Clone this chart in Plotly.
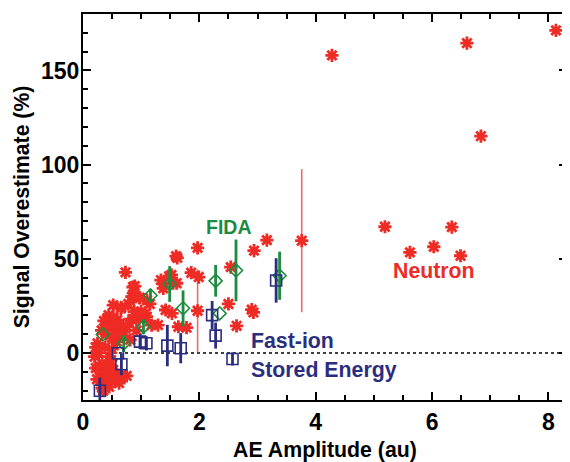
import plotly.graph_objects as go

# ---------------- data ----------------
neutron_x = [4.28, 6.60, 8.13, 6.84, 3.76, 5.19, 5.62, 6.03, 6.34, 6.49,
             1.97, 3.16, 2.94, 1.99, 1.97, 2.54, 2.50, 2.64, 2.93, 2.90,
             1.60, 1.62, 1.38, 1.52, 1.55, 1.38, 1.34, 1.48, 1.61, 1.86,
             1.42, 1.53, 1.29, 1.64, 1.78, 1.18, 0.98, 1.05, 1.09, 1.07,
             0.73, 0.89, 0.84, 0.97, 0.52, 0.66, 0.65, 0.88, 0.42, 0.59,
             0.96, 0.75, 0.81, 0.75, 0.66, 0.58, 0.25, 0.27, 0.45, 0.33,
             0.36, 0.48, 0.30, 0.42, 0.65, 0.33, 0.36, 0.45, 0.55, 0.62,
             0.70, 0.40, 0.50, 0.58, 0.68, 0.78, 0.32, 0.44, 0.52, 0.60,
             0.38, 0.50, 0.28, 0.40, 0.52, 0.30, 0.35, 0.45, 0.55, 0.62,
             0.38, 0.48, 0.86, 0.87, 1.10, 1.15, 1.00, 0.92, 0.85, 0.78,
             0.22, 0.22, 0.24, 0.20]
neutron_y = [158.0, 164.5, 171.3, 115.1, 59.6, 67.0, 53.4, 56.4, 66.8, 51.6,
             55.8, 59.9, 54.3, 40.3, 22.4, 45.6, 26.0, 14.4, 21.5, 23.0,
             51.4, 50.5, 36.8, 41.4, 37.0, 34.3, 38.7, 40.8, 37.0, 42.6,
             22.8, 21.0, 14.8, 13.9, 13.4, 14.8, 29.2, 19.5, 19.3, 21.0,
             42.8, 35.5, 29.9, 29.3, 25.4, 24.2, 23.7, 21.9, 18.4, 17.5,
             18.4, 13.9, 6.9, -12.2, -11.7, -11.7, 5.1, 0.0, -2.0, -5.5,
             -10.8, -12.6, -13.4, -16.1, -13.4, -18.7, 17.0, 14.0, 12.0, 15.0,
             11.0, 10.0, 8.0, 6.0, 9.0, 16.0, 12.0, 20.0, 19.0, 10.0,
             3.0, 2.0, -8.0, -7.0, -9.0, -15.0, -20.0, -18.0, -14.0, -16.0,
             -12.0, -4.0, 35.0, 30.0, 28.0, 26.0, 22.0, 12.0, 18.0, 26.0,
             -8.0, 3.0, -14.0, -2.0]
neutron_err = [0] * len(neutron_x)
neutron_err[4] = 38.0
neutron_err[14] = 22.0

fida_x = [0.34, 0.70, 1.04, 1.16, 1.49, 1.72, 2.28, 2.35, 2.63, 3.38]
fida_y = [9.8, 5.0, 13.9, 30.5, 36.6, 23.7, 38.3, 21.0, 43.8, 41.0]
fida_err = [0, 4.5, 4.0, 3.5, 9.5, 9.5, 8.4, 0, 16.4, 12.8]

fis_x = [0.29, 0.60, 0.66, 0.98, 1.09, 1.45, 1.68, 2.22, 2.28, 2.57, 3.32]
fis_y = [-20.1, -0.2, -6.0, 6.0, 5.1, 3.9, 2.5, 20.1, 9.2, -3.2, 38.5]
fis_err = [7.0, 0, 5.8, 4.0, 3.8, 11.0, 8.0, 7.5, 6.9, 3.5, 11.8]

x_tickvals = [0, 2, 4, 6, 8]
y_tickvals = [0, 50, 100, 150]

RED = "#EE2B24"
GREEN = "#1C8C40"
NAVY = "#2B2E7E"
FONT = "Liberation Sans"

fig = go.Figure()

fig.add_trace(go.Scatter(
    x=neutron_x, y=neutron_y, mode="markers",
    marker=dict(symbol="asterisk", size=11, color=RED,
                line=dict(color=RED, width=2.8)),
    error_y=dict(type="data", array=neutron_err, visible=True,
                 color="#F06A6A", thickness=1.6, width=0),
    showlegend=False))

fig.add_trace(go.Scatter(
    x=fida_x, y=fida_y, mode="markers",
    marker=dict(symbol="diamond-open", size=10, color=GREEN,
                line=dict(color=GREEN, width=1.6)),
    error_y=dict(type="data", array=fida_err, visible=True,
                 color=GREEN, thickness=2.8, width=0),
    showlegend=False))

fig.add_trace(go.Scatter(
    x=fis_x, y=fis_y, mode="markers",
    marker=dict(symbol="square-open", size=11, color=NAVY,
                line=dict(color=NAVY, width=1.6)),
    error_y=dict(type="data", array=fis_err, visible=True,
                 color=NAVY, thickness=2.8, width=0),
    showlegend=False))

fig.add_shape(type="line", xref="paper", yref="y", x0=0, x1=1, y0=0, y1=0,
              line=dict(color="black", width=1.4, dash="dot"), layer="below")

fig.add_annotation(x=2.51, y=66.8, text="<b>FIDA</b>", showarrow=False,
                   font=dict(family=FONT, size=19.5, color=GREEN), xanchor="center", yanchor="middle")
fig.add_annotation(x=6.03, y=43.5, text="<b>Neutron</b>", showarrow=False,
                   font=dict(family=FONT, size=21.3, color=RED), xanchor="center", yanchor="middle")
fig.add_annotation(x=2.85, y=6.4, text="<b>Fast-ion</b>", showarrow=False,
                   font=dict(family=FONT, size=21.3, color=NAVY), xanchor="left", yanchor="middle")
fig.add_annotation(x=2.85, y=-9.0, text="<b>Stored Energy</b>", showarrow=False,
                   font=dict(family=FONT, size=21.3, color=NAVY), xanchor="left", yanchor="middle")

axis_common = dict(showline=True, linecolor="black", linewidth=2.2, mirror="ticks",
                   ticks="inside", tickcolor="black", tickwidth=2, ticklen=8,
                   showgrid=False, zeroline=False,
                   tickfont=dict(family=FONT, size=23, color="black"))

fig.update_xaxes(range=[0, 8.32], tickvals=x_tickvals, ticktext=[f"<b>{v}</b>" for v in x_tickvals],
                 minor=dict(dtick=0.5, ticks="inside", ticklen=5, tickwidth=1.6, tickcolor="black"),
                 title=dict(text="<b>AE Amplitude (au)</b>", font=dict(family=FONT, size=21.3, color="black"),
                            standoff=8),
                 **axis_common)
fig.update_yaxes(range=[-25, 180], tickvals=y_tickvals, ticktext=[f"<b>{v}</b>" for v in y_tickvals],
                 minor=dict(dtick=10, ticks="inside", ticklen=5, tickwidth=1.6, tickcolor="black"),
                 ticklabelstandoff=-3,
                 title=dict(text="<b>Signal Overestimate (%)</b>", font=dict(family=FONT, size=21.2, color="black"),
                            standoff=6),
                 **axis_common)

# page body has an 8px margin, so the figure is sized/offset to land the plot area
fig.update_layout(width=562, height=454, plot_bgcolor="white", paper_bgcolor="white",
                  margin=dict(l=75, r=3, t=6, b=62, autoexpand=False))

fig.write_html("out.html")
